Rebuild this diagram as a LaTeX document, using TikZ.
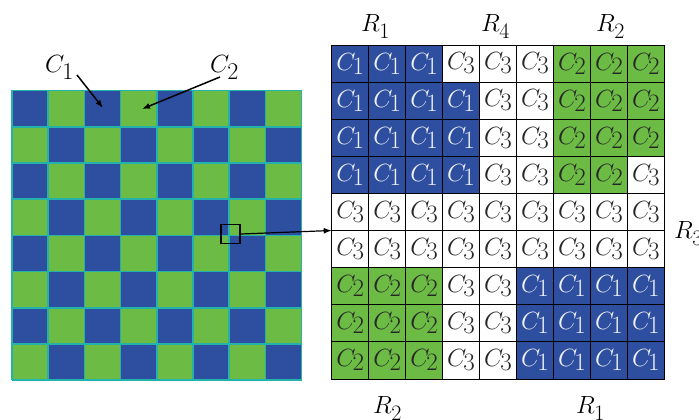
\documentclass[tikz,border=0pt]{standalone}
\usetikzlibrary{arrows.meta}
\definecolor{cblue}{RGB}{46,78,160}
\definecolor{cgreen}{RGB}{108,187,69}
\definecolor{cteal}{RGB}{36,178,170}
\newcommand\CC[1]{\fontsize{36}{36}\selectfont$C$\kern-3pt\raisebox{-4pt}{\fontsize{25}{25}\selectfont #1}}
\newcommand\Lbl[2]{\fontsize{33}{33}\selectfont$#1$\kern-2pt\raisebox{-7pt}{\fontsize{24}{24}\selectfont #2}}
\newcommand\Rl[1]{\fontsize{29}{29}\selectfont$R$\kern-0.5pt\raisebox{-7pt}{\fontsize{22}{22}\selectfont #1}}
\tikzset{
  cellbox/.style={draw=black,line width=0.8pt,minimum width=36.96pt,minimum height=37.1pt,inner sep=0pt,outer sep=0pt},
  cell1/.style={fill=cblue,text=white!92!cblue},
  cell2/.style={fill=cgreen,text=black!85},
  cell3/.style={fill=white,text=black!85},
  ptr/.style={line width=1.5pt,-{Latex[length=8pt,width=6pt]}},
}
\begin{document}
\begin{tikzpicture}[x=1pt,y=-1pt]
\useasboundingbox (0,0) rectangle (699,420);
% left checkerboard
\foreach \r in {0,...,7}{\foreach \c in {0,...,7}{
  \pgfmathtruncatemacro\pp{mod(\r+\c,2)}
  \ifnum\pp=0 \def\col{cblue}\else\def\col{cgreen}\fi
  \fill[\col] ({12+\c*36.2},{90.5+\r*36.2}) rectangle ++(36.2,36.2);
}}
\foreach \i in {0,...,8}{
  \draw[cteal,line width=1.6pt] ({12+\i*36.2},90.5) -- ++(0,289.6);
  \draw[cteal,line width=1.6pt] (12,{90.5+\i*36.2}) -- ++(289.6,0);
}
% right grid
\foreach \r/\row in {0/{1,1,1,3,3,3,2,2,2},1/{1,1,1,1,3,3,2,2,2},2/{1,1,1,1,3,3,2,2,2},
  3/{1,1,1,1,3,3,2,2,3},4/{3,3,3,3,3,3,3,3,3},5/{3,3,3,3,3,3,3,3,3},
  6/{2,2,2,3,3,1,1,1,1},7/{2,2,2,3,3,1,1,1,1},8/{2,2,2,3,3,1,1,1,1}}{
  \foreach \v [count=\c from 0] in \row {
    \node[cellbox,cell\v] (g-\r-\c) at ({331.7+18.48+\c*36.96},{45+18.55+\r*37.1}) {\CC{\v}};
  }
}
% magnifier square and arrow
\node[draw=black,line width=1.8pt,minimum size=19pt,inner sep=0pt] (sq) at (230.5,234) {};
\draw[ptr,line width=1.2pt] (sq.east) -- (g-5-0.north west);
% left labels
\node[anchor=base west,inner sep=0pt] (lc1) at (45,73) {\Lbl{C}{1}};
\node[anchor=base west,inner sep=0pt] (lc2) at (210,73) {\Lbl{C}{2}};
\coordinate (t1) at (77,75);
\coordinate (h1) at (103,108);
\coordinate (t2) at (220,77);
\coordinate (h2) at (142,109);
\draw[ptr] (t1) -- (h1);
\draw[ptr] (t2) -- (h2);
% region labels
\node[anchor=base west,inner sep=0pt] (r1t) at (361,32) {\Rl{1}};
\node[anchor=base west,inner sep=0pt] (r4t) at (481,32) {\Rl{4}};
\node[anchor=base west,inner sep=0pt] (r2t) at (596,32) {\Rl{2}};
\node[anchor=base west,inner sep=0pt] (r3r) at (674,238) {\Rl{3}};
\node[anchor=base west,inner sep=0pt] (r2b) at (373,413) {\Rl{2}};
\node[anchor=base west,inner sep=0pt] (r1b) at (576,413) {\Rl{1}};
\end{tikzpicture}
\end{document}
